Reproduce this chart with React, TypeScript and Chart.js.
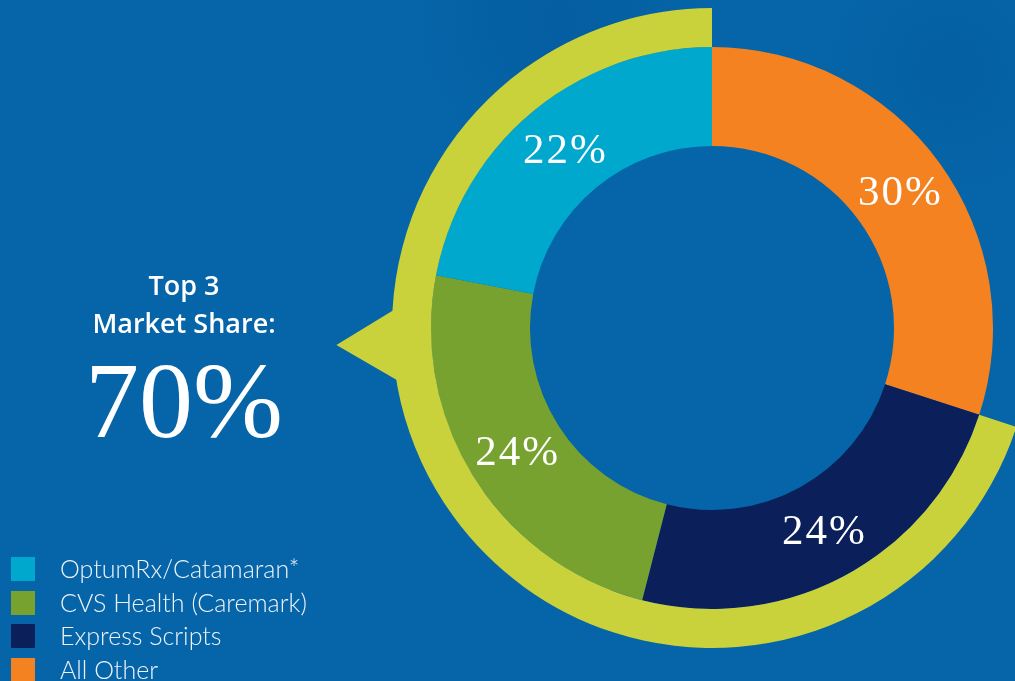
import React, { useEffect, useRef } from "react";
import { Chart, registerables } from "chart.js";

Chart.register(...registerables);

// Market share by pharmacy benefit manager (legend order)
const shareLabels = ["OptumRx/Catamaran*", "CVS Health (Caremark)", "Express Scripts", "All Other"];
const shareValues = [22, 24, 24, 30];
const shareColors = ["#00A8CE", "#78A22F", "#0B1F5A", "#F58220"];

// Outer highlight ring: everyone else vs. the three largest players
const ringLabels = ["All Other", "Top 3"];
const ringValues = [30, 70];
const ringColors = ["rgba(0,0,0,0)", "#C9D23A"];

const headlineLines = ["Top 3", "Market Share:"];
const headlineValue = "70%";

const BG = "#0565A8";
const RING = "#C9D23A";

// Percent labels at the middle of each slice of the inner ring
const sliceLabels = {
  id: "sliceLabels",
  afterDatasetsDraw(chart: any) {
    const meta = chart.getDatasetMeta(1);
    const values = chart.data.datasets[1].data;
    const ctx = chart.ctx;
    ctx.save();
    ctx.font = '43px "Liberation Serif", "Times New Roman", serif';
    ctx.fillStyle = "#ffffff";
    ctx.textAlign = "center";
    ctx.textBaseline = "middle";
    (ctx as any).letterSpacing = "2px";
    meta.data.forEach((arc: any, i: number) => {
      const p = arc.tooltipPosition(true);
      ctx.fillText(`${values[i]}%`, p.x + 1, p.y + 2);
    });
    ctx.restore();
  },
};

// Arrow tab on the outer ring pointing at the headline
const ringPointer = {
  id: "ringPointer",
  afterDatasetsDraw(chart: any) {
    const arc = chart.getDatasetMeta(0).data[1];
    if (!arc) return;
    const { x, y, outerRadius } = arc.getProps(["x", "y", "outerRadius"], true);
    const ctx = chart.ctx;
    const base = outerRadius - 4;
    const a1 = Math.PI + 0.0625;
    const a2 = Math.PI - 0.1727;
    const at = Math.PI - 0.045;
    const tip = outerRadius + 56;
    ctx.save();
    ctx.beginPath();
    ctx.moveTo(x + base * Math.cos(a1), y + base * Math.sin(a1));
    ctx.lineTo(x + tip * Math.cos(at), y + tip * Math.sin(at));
    ctx.lineTo(x + base * Math.cos(a2), y + base * Math.sin(a2));
    ctx.closePath();
    ctx.fillStyle = RING;
    ctx.fill();
    ctx.restore();
  },
};

function ShareChart() {
  const canvasRef = useRef<HTMLCanvasElement | null>(null);

  useEffect(() => {
    if (!canvasRef.current) return;
    // slices run clockwise from 12 o'clock, starting with "All Other"
    const sliceValues = [...shareValues].reverse();
    const sliceColors = [...shareColors].reverse();
    const sliceNames = [...shareLabels].reverse();

    const chart = new Chart(canvasRef.current, {
      type: "doughnut",
      data: {
        labels: sliceNames,
        datasets: [
          {
            label: "Top 3",
            data: ringValues,
            backgroundColor: ringColors,
            borderWidth: 0,
            weight: 39,
          } as any,
          {
            label: "Market share",
            data: sliceValues,
            backgroundColor: sliceColors,
            borderWidth: 0,
            weight: 99,
          } as any,
        ],
      },
      options: {
        responsive: false,
        animation: false,
        radius: 320,
        cutout: "56.875%",
        rotation: 0,
        layout: { padding: { left: 409, right: 0, top: 0, bottom: 25 } },
        plugins: {
          legend: { display: false },
          tooltip: { enabled: false },
          title: { display: false },
        },
        events: [],
      } as any,
      plugins: [ringPointer, sliceLabels],
    });
    return () => chart.destroy();
  }, []);

  return (
    <canvas
      ref={canvasRef}
      width={1015}
      height={681}
      style={{ position: "absolute", left: 0, top: 0, width: 1015, height: 681 }}
    />
  );
}

export default function App() {
  const legendRows = [...shareLabels];
  return (
    <div
      style={{
        position: "fixed",
        left: 0,
        top: 0,
        width: 1015,
        height: 681,
        overflow: "hidden",
        background:
          `radial-gradient(circle at 560px 20px, rgba(0,45,110,0.14) 0px, rgba(0,45,110,0) 150px),` +
          `radial-gradient(circle at 950px 70px, rgba(0,45,110,0.1) 0px, rgba(0,45,110,0) 130px),` +
          BG,
      }}
    >
      <ShareChart />

      <div
        style={{
          position: "absolute",
          left: 84,
          width: 200,
          top: 266,
          textAlign: "center",
          color: "#ffffff",
          fontFamily: '"Open Sans", "DejaVu Sans", sans-serif',
          fontWeight: 600,
          fontSize: 27,
          lineHeight: "38px",
        }}
      >
        {headlineLines.map((t) => (
          <div key={t}>{t}</div>
        ))}
      </div>
      <div
        style={{
          position: "absolute",
          left: 34,
          width: 300,
          top: 347,
          textAlign: "center",
          color: "#ffffff",
          fontFamily: '"Liberation Serif", "Times New Roman", serif',
          fontSize: 108,
          lineHeight: "108px",
        }}
      >
        {headlineValue}
      </div>

      {legendRows.map((name, i) => (
        <div key={name}>
          <div
            style={{
              position: "absolute",
              left: 11,
              top: 557 + i * 33.5,
              width: 24,
              height: 24,
              background: shareColors[i],
            }}
          />
          <div
            style={{
              position: "absolute",
              left: 60,
              top: 556 + i * 33.5,
              whiteSpace: "nowrap",
              color: "#EEF3F8",
              fontFamily: 'Lato, "Open Sans", sans-serif',
              fontWeight: 300,
              fontSize: 25,
              lineHeight: "25px",
            }}
          >
            {name}
          </div>
        </div>
      ))}
    </div>
  );
}
